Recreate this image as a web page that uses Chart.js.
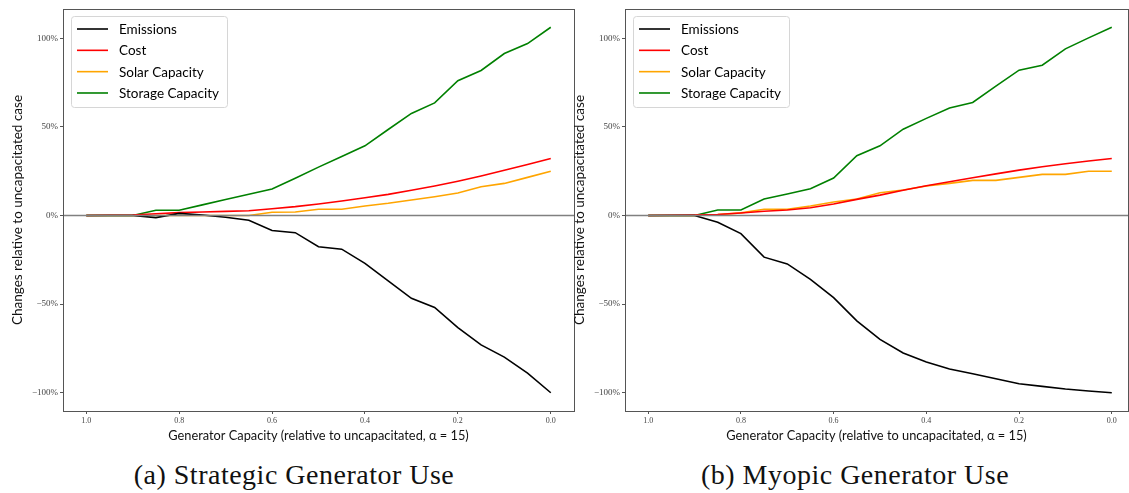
<!DOCTYPE html>
<html>
<head>
<meta charset="utf-8">
<script src="https://cdn.jsdelivr.net/npm/chart.js@4.4.1/dist/chart.umd.min.js"></script>
<style>
    body { margin: 0; width: 1129px; height: 493px; overflow: hidden; background: #fff; position: relative; }
    .painel { position: absolute; top: 0; height: 445px; }
    .legenda { position: absolute; top: 459px; font-family: 'Liberation Serif', serif; font-size: 28px; letter-spacing: 0.5px; color: #111; white-space: nowrap; transform: translateX(-50%); }
</style>
</head>
<body>
<div class="painel" style="left:0;width:580px"><canvas id="graficoA"></canvas></div>
<div class="painel" style="left:562px;width:567px"><canvas id="graficoB"></canvas></div>
<div class="legenda" style="left:294px">(a) Strategic Generator Use</div>
<div class="legenda" style="left:855px">(b) Myopic Generator Use</div>
<script>
// capacidade do gerador (relativa ao caso sem limite)
const capacidade = [1.0, 0.95, 0.9, 0.85, 0.8, 0.75, 0.7, 0.65, 0.6, 0.55, 0.5, 0.45, 0.4, 0.35, 0.3, 0.25, 0.2, 0.15, 0.1, 0.05, 0.0]

// (a) uso estrategico, variacao em %
const emissoesA = [0, 0, 0, -1.2, 1.2, 0.3, -1.0, -2.7, -8.5, -9.7, -17.6, -19.0, -27.0, -36.9, -46.7, -51.9, -63.2, -73.0, -79.9, -88.9, -100]
const custoA = [0, 0.1, 0.3, 1.0, 1.6, 2.0, 2.3, 2.7, 3.8, 5.0, 6.5, 8.2, 10.0, 11.9, 14.2, 16.6, 19.3, 22.3, 25.5, 28.8, 32.2]
const solarA = [0, 0, 0, 0, 0, 0, 0, 0, 1.8, 2.0, 3.5, 3.5, 5.4, 6.9, 8.7, 10.6, 12.7, 16.2, 18.1, 21.5, 25.0]
const armazenamentoA = [0, 0, 0, 3.0, 3.0, 6.0, 9.0, 12.0, 15.0, 21.0, 27.3, 33.3, 39.3, 48.5, 57.6, 63.5, 76.0, 81.8, 91.4, 97.0, 106.2]

// (b) uso miope
const emissoesB = [0, 0, 0, -3.8, -10.2, -23.5, -27.3, -36.0, -46.3, -59.4, -69.9, -77.6, -82.7, -86.6, -89.3, -92.1, -94.9, -96.4, -97.9, -99.0, -100]
const custoB = [0, 0.1, 0.3, 0.6, 1.4, 2.4, 3.1, 4.4, 6.5, 9.1, 11.5, 14.2, 16.8, 19.0, 21.3, 23.5, 25.6, 27.5, 29.2, 30.7, 32.2]
const solarB = [0, 0, 0, 0.5, 1.5, 3.5, 3.5, 5.4, 7.6, 9.3, 12.8, 14.4, 16.6, 18.1, 19.8, 19.8, 21.5, 23.2, 23.2, 25.0, 25.0]
const armazenamentoB = [0, 0, 0, 3.1, 3.1, 9.3, 12.1, 15.1, 21.1, 33.7, 39.3, 48.7, 54.8, 60.7, 63.8, 73.0, 82.0, 84.8, 94.0, 100.2, 106.2]

const nomes = ['Emissions', 'Cost', 'Solar Capacity', 'Storage Capacity']
const cores = ['#000000', '#ff0000', '#ffa500', '#008000']
const ticksX = [1.0, 0.8, 0.6, 0.4, 0.2, 0.0]
const ticksY = [-100, -50, 0, 50, 100]

function pares(valores) {
    return capacidade.map((c, i) => ({ x: c, y: valores[i] }))
}

// moldura completa (topo e direita tambem)
const moldura = {
    id: 'moldura',
    afterDraw(chart) {
        const { ctx, chartArea: a } = chart
        ctx.save()
        ctx.strokeStyle = '#555'
        ctx.lineWidth = 1
        ctx.strokeRect(Math.round(a.left) + 0.5, Math.round(a.top) + 0.5, Math.round(a.right - a.left), Math.round(a.bottom - a.top))
        ctx.restore()
    }
}

// linha horizontal no zero
const linhaZero = {
    id: 'linhaZero',
    afterDatasetsDraw(chart) {
        const { ctx, chartArea: a, scales } = chart
        const y = scales.y.getPixelForValue(0)
        ctx.save()
        ctx.strokeStyle = '#808080'
        ctx.lineWidth = 1.5
        ctx.beginPath()
        ctx.moveTo(a.left, y)
        ctx.lineTo(a.right, y)
        ctx.stroke()
        ctx.restore()
    }
}

// legenda em caixa no canto superior esquerdo
const caixaLegenda = {
    id: 'caixaLegenda',
    afterDatasetsDraw(chart) {
        const { ctx, chartArea: a } = chart
        const x = Math.round(a.left) + 8, y = Math.round(a.top) + 7
        ctx.save()
        ctx.fillStyle = 'rgba(255,255,255,0.85)'
        ctx.strokeStyle = '#d6d6d6'
        ctx.lineWidth = 1
        ctx.beginPath()
        ctx.roundRect(x + 0.5, y + 0.5, 156, 91, 3)
        ctx.fill()
        ctx.stroke()
        ctx.font = '13.5px Lato'
        ctx.textBaseline = 'middle'
        chart.data.datasets.forEach((ds, i) => {
            const ly = y + 13 + i * 21.33
            ctx.strokeStyle = ds.borderColor
            ctx.lineWidth = 1.6
            ctx.beginPath()
            ctx.moveTo(x + 6, ly)
            ctx.lineTo(x + 37, ly)
            ctx.stroke()
            ctx.fillStyle = '#000'
            ctx.fillText(ds.label, x + 48, ly + 0.5)
        })
        ctx.restore()
    }
}

function montarGrafico(id, series, xMin, padDireita) {
    return new Chart(document.getElementById(id), {
        type: 'line',
        data: {
            datasets: nomes.map((nome, i) => ({
                label: nome,
                data: pares(series[i]),
                borderColor: cores[i],
                backgroundColor: cores[i],
                borderWidth: 1.6,
                pointRadius: 0,
                tension: 0,
                fill: false
            }))
        },
        options: {
            responsive: true,
            maintainAspectRatio: false,
            animation: false,
            layout: { padding: { top: 9, right: padDireita, bottom: 0, left: 0 } },
            plugins: { legend: { display: false }, tooltip: { enabled: false } },
            scales: {
                x: {
                    type: 'linear',
                    reverse: true,
                    min: xMin,
                    max: 1.05,
                    afterBuildTicks: s => { s.ticks = ticksX.map(v => ({ value: v })) },
                    afterFit: s => { s.height = 34 },
                    border: { display: false },
                    grid: { drawOnChartArea: false, tickLength: 3, color: '#555' },
                    ticks: {
                        autoSkip: false, maxRotation: 0, padding: 2, color: '#444',
                        font: { family: 'Liberation Serif', size: 8 },
                        callback: v => v.toFixed(1)
                    },
                    title: {
                        display: true,
                        text: 'Generator Capacity (relative to uncapacitated, \u03b1 = 15)',
                        color: '#111',
                        font: { family: 'Lato', size: 12.8 },
                        padding: { top: 0, bottom: 1.5 }
                    }
                },
                y: {
                    min: -110.3,
                    max: 116.5,
                    afterBuildTicks: s => { s.ticks = ticksY.map(v => ({ value: v })) },
                    afterFit: s => { s.width = 63 },
                    border: { display: false },
                    grid: { drawOnChartArea: false, tickLength: 3, color: '#555' },
                    ticks: {
                        padding: 2, color: '#444',
                        font: { family: 'Liberation Serif', size: 9 },
                        callback: v => (v < 0 ? '\u2212' : '') + Math.abs(v) + '%'
                    },
                    title: {
                        display: true,
                        text: 'Changes relative to uncapacitated case',
                        color: '#111',
                        font: { family: 'Lato', size: 13.5 },
                        padding: { top: 10, bottom: 0 }
                    }
                }
            }
        },
        plugins: [linhaZero, caixaLegenda, moldura]
    })
}

montarGrafico('graficoA', [emissoesA, custoA, solarA, armazenamentoA], -0.05, 6)
montarGrafico('graficoB', [emissoesB, custoB, solarB, armazenamentoB], -0.035, 1)
</script>
</body>
</html>
